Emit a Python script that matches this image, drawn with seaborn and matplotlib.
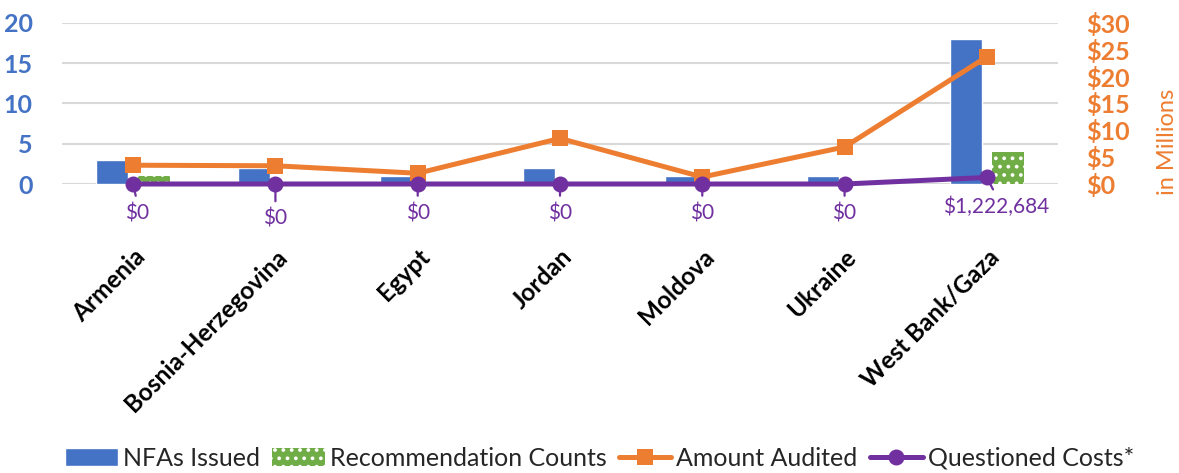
import numpy as np
import pandas as pd
import matplotlib.pyplot as plt
import seaborn as sns
from matplotlib.patches import Patch
from matplotlib.lines import Line2D

# =========================
# DATA
# =========================
countries = ['Armenia', 'Bosnia-Herzegovina', 'Egypt', 'Jordan', 'Moldova', 'Ukraine', 'West Bank/Gaza']
nfas_issued = [3, 2, 1, 2, 1, 1, 18]
rec_counts = [1, 0, 0, 0, 0, 0, 4]
amount_audited = [3.5, 3.4, 2.0, 8.5, 1.3, 6.9, 23.7]          # $ millions
questioned_costs = [0, 0, 0, 0, 0, 0, 1.222684]                 # $ millions
qc_labels = ['$0', '$0', '$0', '$0', '$0', '$0', '$1,222,684']
left_ticks = [0, 5, 10, 15, 20]
right_ticks = [0, 5, 10, 15, 20, 25, 30]

BLUE = '#4472C4'
GREEN = '#70AD47'
ORANGE = '#ED7D31'
PURPLE = '#7030A0'

sns.set_style('white')
plt.rcParams['font.family'] = ['Lato', 'DejaVu Sans']
plt.rcParams['hatch.linewidth'] = 1.5

df = pd.DataFrame({
    'country': countries * 2,
    'series': ['NFAs Issued'] * len(countries) + ['Recommendation Counts'] * len(countries),
    'value': nfas_issued + rec_counts,
})

fig = plt.figure(figsize=(11.79, 4.73), dpi=100)
ax = fig.add_axes([62 / 1179, 1 - 184 / 473, (1058 - 62) / 1179, (184 - 23) / 473])

sns.barplot(data=df, x='country', y='value', hue='series', palette=[BLUE, GREEN],
            width=0.6, gap=0.25, legend=False, ax=ax, saturation=1)
for p in ax.containers[1]:
    p.set_hatch('..')
    p.set_edgecolor('white')
    p.set_linewidth(0)

ax.set_ylim(0, 20)
ax.set_xlim(-0.5, len(countries) - 0.5)
ax.set_yticks(left_ticks)
ax.set_yticklabels([str(t) for t in left_ticks], color=BLUE, fontweight='bold', fontsize=18)
ax.yaxis.grid(True, color='#D9D9D9', linewidth=1.5)
ax.set_axisbelow(True)
ax.set_xlabel('')
ax.set_ylabel('')
ax.tick_params(axis='both', length=0)
ax.tick_params(axis='y', pad=21)
ax.set_xticks(range(len(countries)))
ax.set_xticklabels(countries, rotation=45, ha='right', va='top', rotation_mode='anchor',
                   fontweight='bold', fontsize=17.5, color='black')
ax.tick_params(axis='x', pad=44)
sns.despine(ax=ax, left=True, bottom=True)

ax2 = ax.twinx()
xpos = np.arange(len(countries))
sns.lineplot(x=xpos, y=amount_audited, ax=ax2, color=ORANGE, linewidth=3.6,
             marker='s', markersize=11.5, markeredgewidth=0, clip_on=False)
sns.lineplot(x=xpos, y=questioned_costs, ax=ax2, color=PURPLE, linewidth=3.6,
             marker='o', markersize=11.5, markeredgewidth=0, clip_on=False, zorder=3)
ax2.set_ylim(0, 30)
ax2.set_yticks(right_ticks)
ax2.set_yticklabels([f'${t}' for t in right_ticks], color=ORANGE, fontweight='bold', fontsize=18)
ax2.tick_params(axis='both', length=0)
ax2.tick_params(axis='y', pad=20)
ax2.set_ylabel('in Millions', color=ORANGE, fontsize=17)
ax2.yaxis.set_label_coords(1.099, 0.26)
ax2.grid(False)
sns.despine(ax=ax2, left=True, bottom=True, right=True)

# data labels for questioned costs, with short leader lines
for i, (v, lab) in enumerate(zip(questioned_costs, qc_labels)):
    dy = -25 if i == 1 else -21
    dx = 7 if i == 6 else (3 if i == 0 else 0)
    ax2.annotate(lab, xy=(i, v), xytext=(dx, dy), textcoords='offset points',
                 ha='center', va='center', color=PURPLE, fontsize=15, zorder=2,
                 arrowprops=dict(arrowstyle='-', color=PURPLE, lw=1.6, relpos=(0.5, 1.0),
                                 shrinkA=3, shrinkB=0))

handles = [
    Patch(facecolor=BLUE, label='NFAs Issued'),
    Patch(facecolor=GREEN, hatch='..', edgecolor='white', linewidth=0, label='Recommendation Counts'),
    Line2D([], [], color=ORANGE, linewidth=3.6, marker='s', markersize=11.5, markeredgewidth=0, label='Amount Audited'),
    Line2D([], [], color=PURPLE, linewidth=3.6, marker='o', markersize=11.5, markeredgewidth=0, label='Questioned Costs*'),
]
fig.legend(handles=handles, loc='center', bbox_to_anchor=(0.5085, 1 - 458 / 473), ncol=4,
           frameon=False, fontsize=18, handlelength=2.1, handletextpad=0.2, columnspacing=0.5)

fig.savefig('out.png', dpi=100)
